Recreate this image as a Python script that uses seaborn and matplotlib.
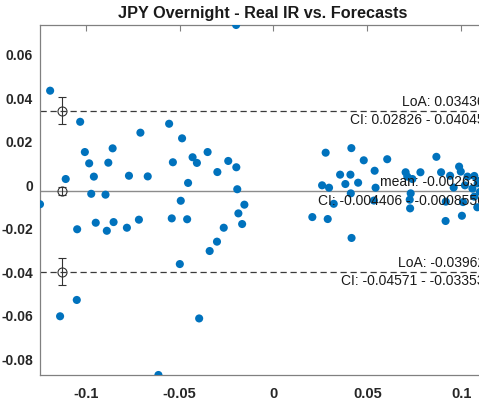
import matplotlib
matplotlib.use("Agg")
import matplotlib.pyplot as plt
import seaborn as sns
import pandas as pd
import numpy as np

# ---- data ----
x_left = [-0.1244, -0.1190, -0.1137, -0.1107, -0.1048, -0.1046, -0.1030, -0.1005, -0.0982,
          -0.0971, -0.0957, -0.0947, -0.0895, -0.0888, -0.0880, -0.0857, -0.0852, -0.0781,
          -0.0770, -0.0717, -0.0709, -0.0670, -0.0613, -0.0556, -0.0542, -0.0536, -0.0499,
          -0.0494, -0.0487, -0.0460, -0.0455, -0.0431, -0.0408, -0.0396, -0.0351, -0.0340,
          -0.0301, -0.0299, -0.0265, -0.0241, -0.0199, -0.0198, -0.0193, -0.0187, -0.0167,
          -0.0155]
y_left = [-0.0087, 0.0435, -0.0602, 0.0029, -0.0527, -0.0202, 0.0292, 0.0153, 0.0101,
          -0.0039, 0.0040, -0.0172, -0.0043, -0.0209, 0.0104, 0.0170, -0.0169, -0.0195,
          0.0044, -0.0158, 0.0242, 0.0041, -0.0872, 0.0283, -0.0152, 0.0106, -0.0362,
          -0.0071, 0.0216, -0.0156, 0.0011, 0.0129, 0.0103, -0.0612, 0.0153, -0.0302,
          -0.0259, 0.0061, -0.0195, 0.0112, 0.0737, 0.0083, -0.0018, -0.0129, -0.0178,
          -0.0089]
x_right = [0.0207, 0.0259, 0.0278, 0.0289, 0.0296, 0.0321, 0.0355, 0.0383, 0.0410, 0.0412,
           0.0415, 0.0416, 0.0451, 0.0481, 0.0539, 0.0544, 0.0535, 0.0606, 0.0704, 0.0713,
           0.0740, 0.0783, 0.0731, 0.0726, 0.0728, 0.0868, 0.0893, 0.0917, 0.0918, 0.0941,
           0.0989, 0.0998, 0.1004, 0.1010, 0.1034, 0.1070, 0.1088, 0.1070, 0.1086, 0.1095,
           0.1060, 0.1100, 0.1127, 0.1020, 0.0960]
y_right = [-0.0146, 0.0000, 0.0150, -0.0155, -0.0011, -0.0085, 0.0049, 0.0006, 0.0049, -0.0037,
           0.0171, -0.0242, 0.0012, 0.0115, 0.0067, -0.0011, -0.0070, 0.0120, 0.0060, 0.0040,
           0.0029, 0.0060, -0.0037, -0.0066, -0.0106, 0.0131, 0.0060, -0.0164, -0.0075, 0.0044,
           0.0086, 0.0063, -0.0140, -0.0077, 0.0040, 0.0043, 0.0009, -0.0052, -0.0101, 0.0020,
           -0.0015, -0.0030, 0.0000, 0.0000, -0.0010]

mean_diff = -0.002631
mean_ci = [-0.004406, -0.0008556]
loa_upper = 0.03436
loa_upper_ci = [0.02826, 0.04045]
loa_lower = -0.03962
loa_lower_ci = [-0.04571, -0.03353]

mean_label = "mean: -0.002631"
mean_ci_label = "CI: -0.004406 - -0.0008556"
upper_label = "LoA: 0.03436"
upper_ci_label = "CI: 0.02826 - 0.04045"
lower_label = "LoA: -0.03962"
lower_ci_label = "CI: -0.04571 - -0.03353"

xticks = [-0.1, -0.05, 0, 0.05, 0.1]
xtick_labels = ["-0.1", "-0.05", "0", "0.05", "0.1"]
yticks = [-0.08, -0.06, -0.04, -0.02, 0, 0.02, 0.04, 0.06]
ytick_labels = ["-0.08", "-0.06", "-0.04", "-0.02", "0", "0.02", "0.04", "0.06"]
title = "JPY Overnight - Real IR vs. Forecasts"

# ---- plot ----
sns.set_style("white")
plt.rcParams["font.family"] = ["Liberation Sans", "DejaVu Sans"]

df = pd.DataFrame({"mean": x_left + x_right, "diff": y_left + y_right})

W, H = 479, 400
fig = plt.figure(figsize=(W / 100, H / 100), dpi=100)
ax = fig.add_axes([40 / W, 25 / H, 445 / W, 350 / H])

sns.scatterplot(data=df, x="mean", y="diff", ax=ax, s=34, color="#0072BD",
                edgecolor="none", linewidth=0, zorder=3)

xmin, xmax = df["mean"].min(), df["mean"].max()
ymin, ymax = df["diff"].min(), df["diff"].max()
ax.set_xlim(xmin, xmax)
ax.set_ylim(ymin, ymax)

ax.axhline(mean_diff, color="#8c8c8c", lw=1.0, zorder=2)
ax.axhline(loa_upper, color="#3a3a3a", lw=0.9, ls=(0, (5, 3)), zorder=2)
ax.axhline(loa_lower, color="#3a3a3a", lw=0.9, ls=(0, (5, 3)), zorder=2)

ex = -0.1128
for val, ci in [(loa_upper, loa_upper_ci), (mean_diff, mean_ci), (loa_lower, loa_lower_ci)]:
    ax.errorbar([ex], [val], yerr=[[val - ci[0]], [ci[1] - val]], fmt="o", mfc="none",
                mec="#333333", ecolor="#333333", ms=6.5, mew=0.8, elinewidth=0.8,
                capsize=3.2, capthick=0.8, zorder=4)

kw = dict(ha="right", fontsize=10, color="#1a1a1a", zorder=5)
ax.text(xmax, loa_upper + 0.0009, upper_label, va="bottom", **kw)
ax.text(xmax, loa_upper - 0.0012, upper_ci_label, va="top", **kw)
ax.text(xmax, mean_diff + 0.0009, mean_label, va="bottom", **kw)
ax.text(xmax, mean_diff - 0.0012, mean_ci_label, va="top", **kw)
ax.text(xmax, loa_lower + 0.0009, lower_label, va="bottom", **kw)
ax.text(xmax, loa_lower - 0.0012, lower_ci_label, va="top", **kw)

ax.set_xticks(xticks)
ax.set_xticklabels(xtick_labels)
ax.set_yticks(yticks)
ax.set_yticklabels(ytick_labels)
ax.set_xlabel("")
ax.set_ylabel("")
for lab in ax.get_xticklabels():
    lab.set_fontweight("bold")
    lab.set_fontsize(10.5)
    lab.set_color("#262626")
for lab in ax.get_yticklabels():
    lab.set_fontweight("bold")
    lab.set_fontsize(10)
    lab.set_color("#262626")
ax.tick_params(axis="both", direction="in", length=4, width=0.8, color="#808080",
               top=True, right=True)
ax.tick_params(axis="x", pad=9)
ax.tick_params(axis="y", pad=5)
for sp in ax.spines.values():
    sp.set_visible(True)
    sp.set_color("#808080")
    sp.set_linewidth(0.9)

ax.set_title(title, fontsize=11.7, fontweight="bold", color="#1a1a1a", pad=5)

fig.savefig("out.png", dpi=100)
